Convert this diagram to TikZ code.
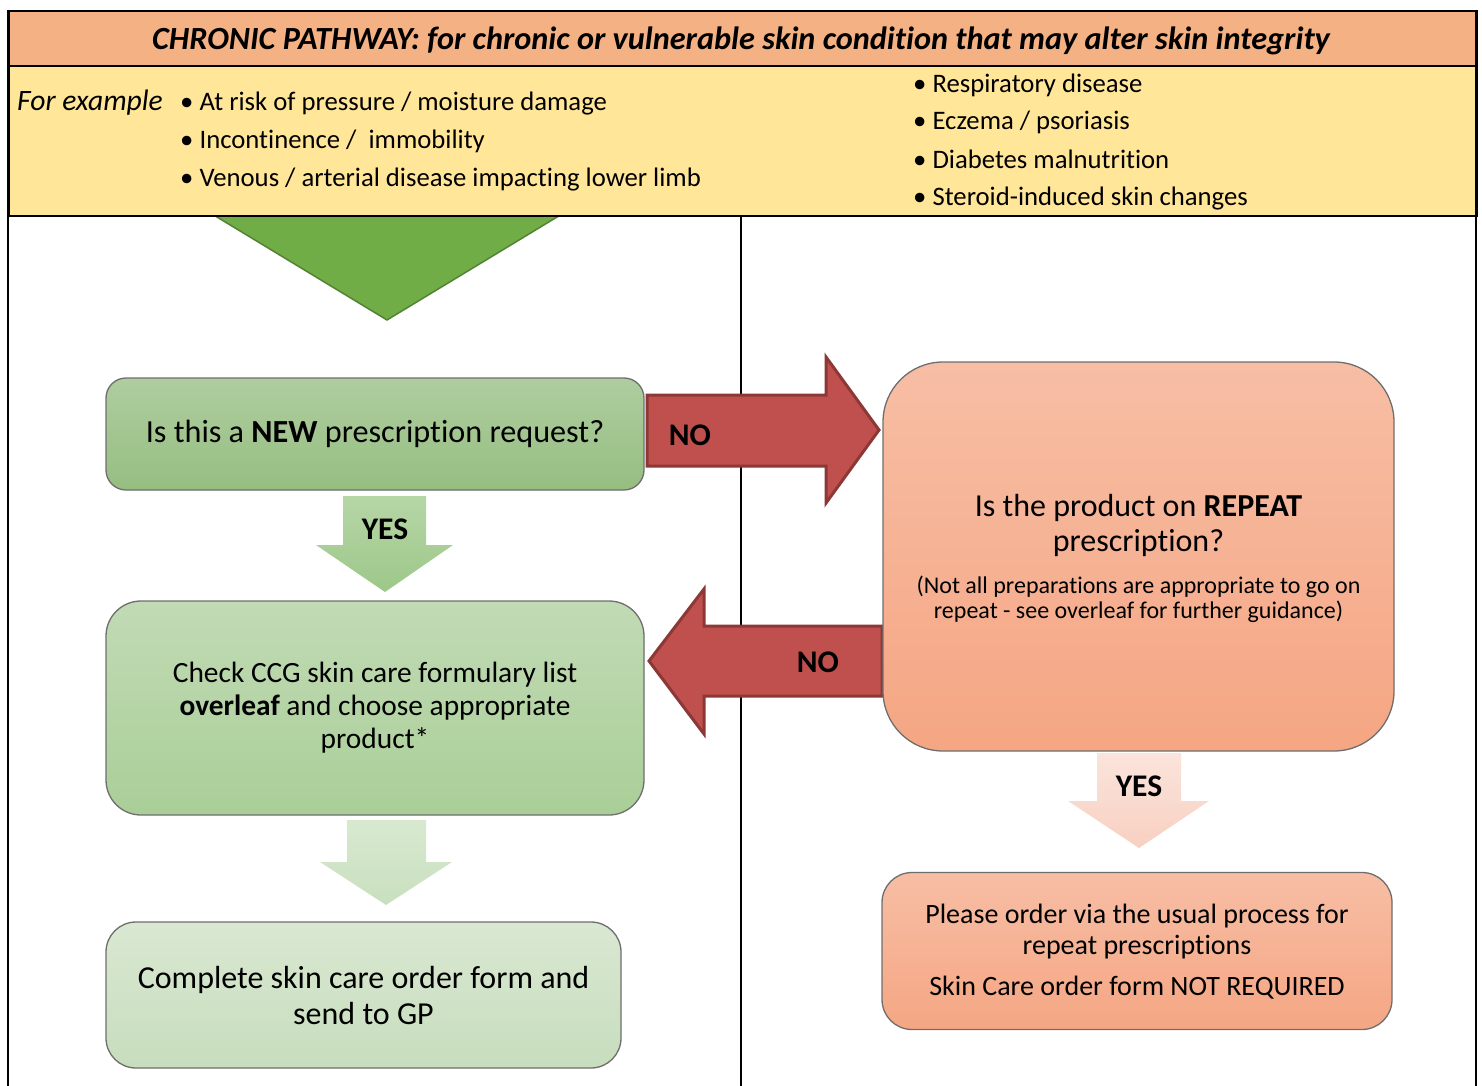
\documentclass[tikz,border=0pt]{standalone}
\usepackage{fontspec}
\setmainfont{Carlito}[Ligatures=NoCommon]
\usetikzlibrary{calc}
\definecolor{hdr}{RGB}{244,177,131}
\definecolor{yel}{RGB}{255,230,153}
\definecolor{trif}{RGB}{112,173,71}
\definecolor{trid}{RGB}{84,130,53}
\definecolor{redf}{RGB}{192,80,77}
\definecolor{redd}{RGB}{140,56,54}
\definecolor{boxline}{RGB}{110,110,110}
\definecolor{gA1}{RGB}{175,205,160}\definecolor{gA2}{RGB}{150,190,129}
\definecolor{gB1}{RGB}{193,219,181}\definecolor{gB2}{RGB}{170,206,152}
\definecolor{gC1}{RGB}{217,232,210}\definecolor{gC2}{RGB}{199,221,189}
\definecolor{sA1}{RGB}{247,190,165}\definecolor{sA2}{RGB}{245,166,131}
\definecolor{yA1}{RGB}{182,214,166}\definecolor{yA2}{RGB}{157,199,137}
\definecolor{yB1}{RGB}{216,233,208}\definecolor{yB2}{RGB}{200,224,190}
\definecolor{pA1}{RGB}{250,228,220}\definecolor{pA2}{RGB}{248,208,193}
\tikzset{
  frame/.style={line width=2pt,draw=black},
  hband/.style={draw=black,line width=2pt,anchor=north west,inner sep=0pt},
  txt/.style={inner sep=0pt,text=black},
  bul/.style={txt,anchor=base west,font=\fontsize{26.7}{30}\selectfont},
  flowbox/.style={draw=boxline,line width=1.3pt,align=center,inner sep=0pt},
  redarr/.style={fill=redf,draw=redd,line width=3pt,line join=miter},
  lbl/.style={txt,font=\fontsize{31.5}{34}\selectfont\bfseries},
}
\begin{document}
\begin{tikzpicture}[x=1pt,y=-1pt]
\useasboundingbox (0,0) rectangle (1482,1086);
% green triangle
\draw[fill=trif,draw=trid,line width=1.5pt] (212,214) -- (562,214) -- (387,320) -- cycle;
% header bands
\node[hband,fill=yel,minimum width=1468,minimum height=150] (band) at (8,65) {};
\node[hband,fill=hdr,minimum width=1468,minimum height=55] (title) at (8,10) {};
\node[txt,anchor=base,font=\fontsize{32.3}{36}\selectfont\bfseries\itshape] (ttext) at (741,50)
  {CHRONIC PATHWAY: for chronic or vulnerable skin condition that may alter skin integrity};
\node[txt,anchor=base west,font=\fontsize{29.6}{32}\selectfont\itshape] (forex) at (17,111) {For example};
\node[bul] (b1) at (180,111) {• At risk of pressure / moisture damage};
\node[bul] (b2) at (180,149) {• Incontinence /\ \ immobility};
\node[bul] (b3) at (180,186) {• Venous / arterial disease impacting lower limb};
\node[bul] (b4) at (913,93) {• Respiratory disease};
\node[bul] (b5) at (913,130) {• Eczema / psoriasis};
\node[bul] (b6) at (913,168) {• Diabetes malnutrition};
\node[bul] (b7) at (913,205) {• Steroid-induced skin changes};
% frame lines
\coordinate (lt) at (8,10); \coordinate (lb) at (8,1086);
\coordinate (rt) at (1476,10); \coordinate (rb) at (1476,1086);
\coordinate (mt) at (741,215); \coordinate (mb) at (741,1086);
\draw[frame] (lt) -- (lb);
\draw[frame] (rt) -- (rb);
\draw[frame] (mt) -- (mb);
% red NO arrows
\draw[redarr] (647,395) -- (826,395) -- (826,357) -- (879,430) -- (826,503) -- (826,466) -- (647,466) -- cycle;
\draw[redarr] (882,626) -- (704,626) -- (704,589) -- (649,661) -- (704,734) -- (704,696) -- (882,696) -- cycle;
% boxes
\node[flowbox,rounded corners=20pt,top color=gA1,bottom color=gA2,minimum width=538,minimum height=112,
  font=\fontsize{32.2}{36}\selectfont] (q1) at (375,434) {Is this a \textbf{NEW} prescription request?};
\node[flowbox,rounded corners=35pt,top color=gB1,bottom color=gB2,minimum width=538,minimum height=214,
  font=\fontsize{29.4}{33}\selectfont] (chk) at (375,708)
  {Check CCG skin care formulary list\\\textbf{overleaf} and choose appropriate\\product*};
\node[flowbox,rounded corners=30pt,top color=gC1,bottom color=gC2,minimum width=515,minimum height=146,
  font=\fontsize{32}{36}\selectfont] (cmp) at (363.5,995) {Complete skin care order form and\\send to GP};
\node[flowbox,rounded corners=60pt,top color=sA1,bottom color=sA2,minimum width=511,minimum height=389] (rep) at (1138.5,556.5) {};
\node[txt,align=center,font=\fontsize{32}{35}\selectfont] (repq) at ($(rep.center)+(0,-31)$)
  {Is the product on \textbf{REPEAT}\\prescription?};
\node[txt,align=center,font=\fontsize{24}{25.5}\selectfont] (repn) at ($(rep.center)+(0,43)$)
  {(Not all preparations are appropriate to go on\\repeat - see overleaf for further guidance)};
\node[flowbox,rounded corners=30pt,top color=sA1,bottom color=sA2,minimum width=510,minimum height=157] (ord) at (1137,951) {};
\node[txt,align=center,font=\fontsize{28}{31}\selectfont] (ordt) at ($(ord.center)+(0,-19)$)
  {Please order via the usual process for\\repeat prescriptions};
\node[txt,font=\fontsize{28}{31}\selectfont] (ordn) at ($(ord.center)+(0,37)$) {Skin Care order form NOT REQUIRED};
% YES / down arrows
\shade[top color=yA1,bottom color=yA2] (343,496) -- (426,496) -- (426,545) -- (453,545) -- (385,592) -- (316,545) -- (343,545) -- cycle;
\shade[top color=yB1,bottom color=yB2] (347,820) -- (426,820) -- (426,862) -- (452,862) -- (386,905) -- (320,862) -- (347,862) -- cycle;
\shade[top color=pA1,bottom color=pA2] (1097,753) -- (1181,753) -- (1181,801) -- (1209,801) -- (1139,848) -- (1068,801) -- (1097,801) -- cycle;
% labels
\node[lbl] (no1) at (690,435) {NO};
\node[lbl] (no2) at (818,662) {NO};
\node[lbl] (yes1) at (385,529) {YES};
\node[lbl] (yes2) at (1139,786) {YES};
\end{tikzpicture}
\end{document}
